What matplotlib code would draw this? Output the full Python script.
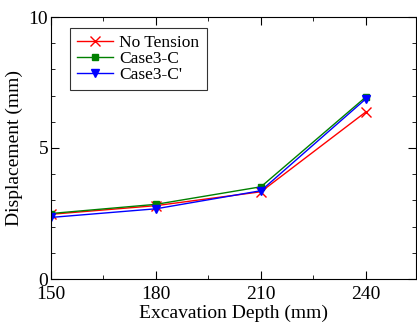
import numpy as np
import matplotlib.pyplot as plt
from matplotlib.ticker import MultipleLocator

depth = [150, 180, 210, 240]
no_tension = [2.47, 2.80, 3.33, 6.38]
case3_c = [2.50, 2.85, 3.52, 6.95]
case3_c2 = [2.35, 2.68, 3.37, 6.88]

plt.rcParams['font.family'] = ['Liberation Serif', 'DejaVu Serif']

fig = plt.figure(figsize=(4.17, 3.29), dpi=100)
ax = fig.add_axes([51 / 417, 1 - 279 / 329, 365 / 417, 262 / 329])

lw = 1.0
ax.plot(depth, no_tension, color='red', linewidth=lw, marker='x', markersize=7,
        markeredgewidth=1.0, label='No Tension')
ax.plot(depth, case3_c, color='green', linewidth=lw, marker='s', markersize=5,
        label='Case3-C')
ax.plot(depth, case3_c2, color='blue', linewidth=lw, marker='v', markersize=6,
        label="Case3-C'")

ax.set_xlim(150, 254.3)
ax.set_ylim(0, 10)
ax.set_xticks([150, 180, 210, 240])
ax.set_yticks([0, 5, 10])
ax.xaxis.set_minor_locator(MultipleLocator(15))
ax.yaxis.set_minor_locator(MultipleLocator(1))
ax.tick_params(which='both', direction='in', top=True, right=True, labelsize=14)
ax.tick_params(axis='x', pad=5)
ax.tick_params(axis='y', pad=2)
ax.tick_params(which='major', length=6)
ax.tick_params(which='minor', length=3)

ax.set_xlabel('Excavation Depth (mm)', fontsize=14, labelpad=1)
ax.set_ylabel('Displacement (mm)', fontsize=14, labelpad=4)

leg = ax.legend(loc='upper left', bbox_to_anchor=(19 / 365, 251 / 262),
                borderaxespad=0, fontsize=12.5, frameon=True, fancybox=False,
                edgecolor='black', handlelength=2.1, handletextpad=0.35,
                borderpad=0.4, labelspacing=0.0)
leg.get_frame().set_linewidth(0.8)

fig.savefig('out.png', dpi=100)
